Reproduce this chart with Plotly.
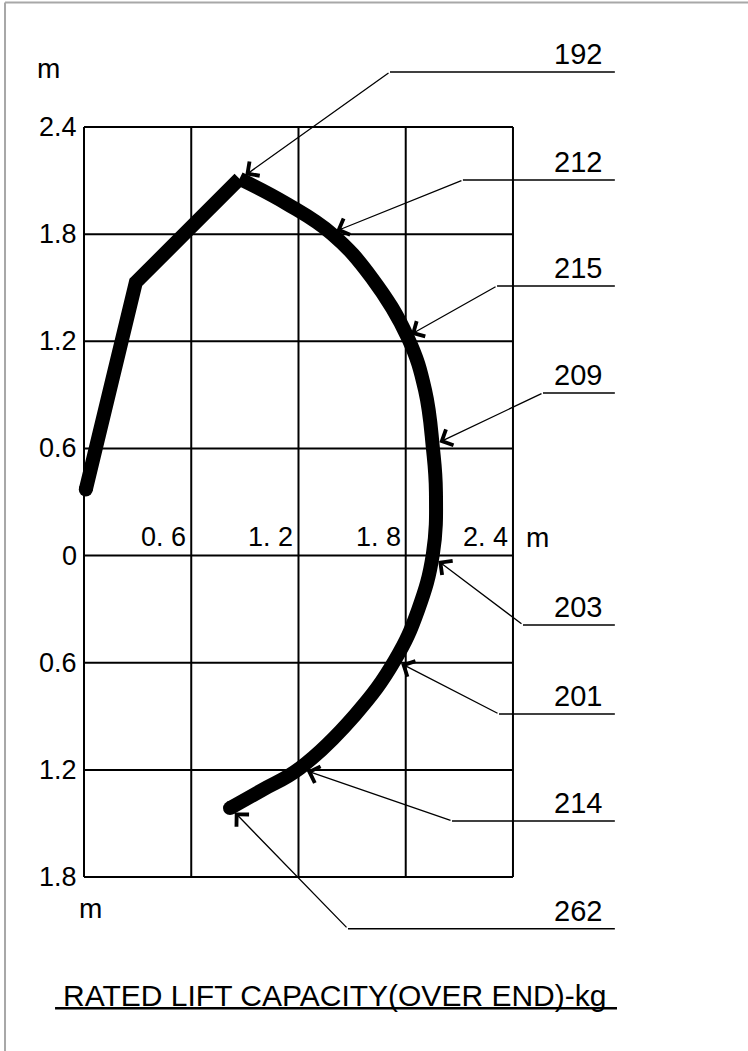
import plotly.graph_objects as go

# grid ticks (m)
x_ticks = [0, 0.6, 1.2, 1.8, 2.4]
y_ticks = [2.4, 1.8, 1.2, 0.6, 0, -0.6, -1.2, -1.8]
x_tick_text = ["0. 6", "1. 2", "1. 8", "2. 4"]
y_tick_text = ["2.4", "1.8", "1.2", "0.6", "0", "0.6", "1.2", "1.8"]

# load chart outline (m), straight part then the arc
boom_x = [0.01, 0.29, 0.87]
boom_y = [0.37, 1.53, 2.11]
arc_x = [0.87, 1.136, 1.387, 1.611, 1.813, 1.908, 1.952, 1.969, 1.952, 1.869, 1.740, 1.516, 1.208, 0.996, 0.817]
arc_y = [2.11, 1.969, 1.801, 1.554, 1.218, 0.927, 0.602, 0.356, 0.009, -0.305, -0.585, -0.893, -1.190, -1.313, -1.414]

# rated capacities (kg) with the points they refer to
capacity = ["192", "212", "215", "209", "203", "201", "214", "262"]
point_x = [0.875, 1.38, 1.80, 1.958, 1.955, 1.745, 1.215, 0.82]
point_y = [2.11, 1.805, 1.222, 0.62, -0.01, -0.59, -1.195, -1.414]
elbow_x = [1.712, 2.120, 2.311, 2.568, 2.456, 2.322, 2.059, 1.477]
elbow_y = [2.708, 2.103, 1.510, 0.911, -0.388, -0.887, -1.486, -2.090]
leader_end = 2.97

FONT = "Liberation Sans, Arial, sans-serif"

fig = go.Figure()

# grid
gx, gy = [], []
for x in x_ticks:
    gx += [x, x, None]
    gy += [y_ticks[-1], y_ticks[0], None]
for y in y_ticks:
    gx += [x_ticks[0], x_ticks[-1], None]
    gy += [y, y, None]
fig.add_trace(go.Scatter(x=gx, y=gy, mode="lines", line=dict(color="black", width=2), hoverinfo="skip"))

# capacity curve
fig.add_trace(go.Scatter(x=boom_x, y=boom_y, mode="lines", line=dict(color="black", width=14)))
fig.add_trace(go.Scatter(x=arc_x, y=arc_y, mode="lines", line=dict(color="black", width=14, shape="spline", smoothing=1.2)))
fig.add_trace(go.Scatter(x=[boom_x[0], arc_x[-1]], y=[boom_y[0], arc_y[-1]], mode="markers",
                         marker=dict(color="black", size=14)))

# leader lines (elbow -> label line)
lx, ly = [], []
for ex, ey in zip(elbow_x, elbow_y):
    lx += [ex, leader_end, None]
    ly += [ey, ey, None]
fig.add_trace(go.Scatter(x=lx, y=ly, mode="lines", line=dict(color="black", width=1.5), hoverinfo="skip"))

annotations = []
for px, py, ex, ey, t in zip(point_x, point_y, elbow_x, elbow_y, capacity):
    annotations.append(dict(x=px, y=py, ax=ex, ay=ey, axref="x", ayref="y", xref="x", yref="y",
                            text="", showarrow=True, arrowhead=4, arrowsize=2.6, arrowwidth=1.3,
                            standoff=6, arrowcolor="black"))
    annotations.append(dict(x=2.91, y=ey, xref="x", yref="y", text=t, showarrow=False,
                            xanchor="right", yanchor="bottom", yshift=0,
                            font=dict(family=FONT, size=29, color="black")))

for y, t in zip(y_ticks, y_tick_text):
    annotations.append(dict(x=0, y=y, xref="x", yref="y", text=t, showarrow=False,
                            xanchor="right", yanchor="middle", xshift=-5,
                            font=dict(family=FONT, size=27, color="black")))
for x, t in zip(x_ticks[1:], x_tick_text):
    annotations.append(dict(x=x, y=0, xref="x", yref="y", text=t, showarrow=False,
                            xanchor="right", yanchor="bottom", xshift=-3, yshift=2,
                            font=dict(family=FONT, size=27, color="black")))

for x, y in [(-0.20, 2.73), (2.54, 0.104), (0.034, -1.974)]:
    annotations.append(dict(x=x, y=y, xref="x", yref="y", text="m", showarrow=False,
                            xanchor="center", yanchor="middle",
                            font=dict(family=FONT, size=28, color="black")))

annotations.append(dict(x=1.404, y=-2.461, xref="x", yref="y", text="RATED LIFT CAPACITY(OVER END)-kg",
                        showarrow=False, xanchor="center", yanchor="middle",
                        font=dict(family=FONT, size=30, color="black")))

shapes = [
    dict(type="line", xref="x", yref="y", x0=-0.162, x1=2.982, y0=-2.534, y1=-2.534,
         line=dict(color="black", width=2.5)),
    dict(type="line", xref="paper", yref="paper", x0=0.0067, x1=1, y0=0.9976, y1=0.9976,
         line=dict(color="#a8a8a8", width=2)),
    dict(type="line", xref="paper", yref="paper", x0=0.0067, x1=0.0067, y0=0, y1=0.9976,
         line=dict(color="#a8a8a8", width=2)),
]

fig.update_layout(
    width=748,
    height=1051,
    margin=dict(l=0, r=0, t=0, b=0),
    paper_bgcolor="white",
    plot_bgcolor="white",
    showlegend=False,
    xaxis=dict(range=[-0.470, 3.715], visible=False),
    yaxis=dict(range=[-2.774, 3.111], visible=False),
    annotations=annotations,
    shapes=shapes,
)

fig.write_html("out.html", config={"displayModeBar": False},
               post_script="document.body.style.margin='0px';")
